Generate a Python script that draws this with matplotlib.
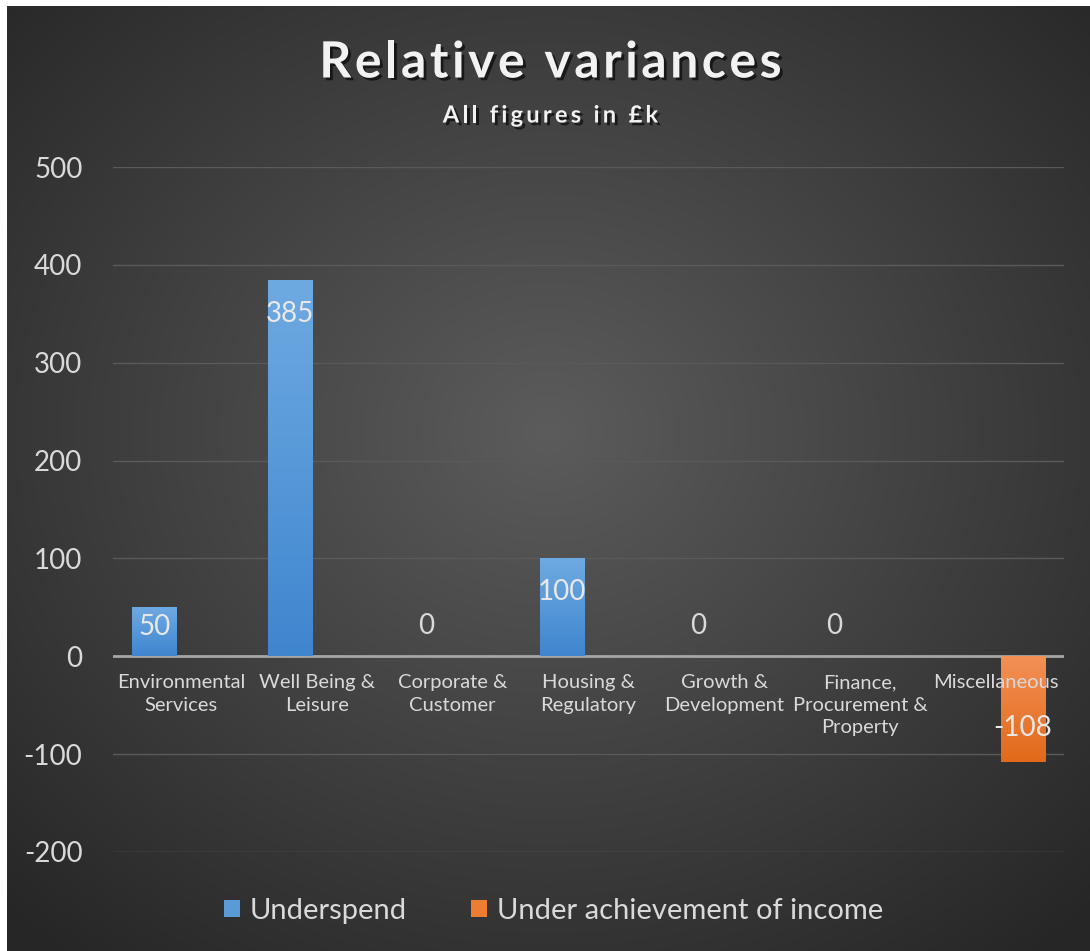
import numpy as np
import matplotlib
matplotlib.use('Agg')
import matplotlib.pyplot as plt
import matplotlib.patheffects as pe
from matplotlib.patches import Patch

plt.rcParams['font.family'] = ['Lato', 'DejaVu Sans']

categories = ['Environmental\nServices', 'Well Being &\nLeisure', 'Corporate &\nCustomer',
              'Housing &\nRegulatory', 'Growth &\nDevelopment', 'Finance,\nProcurement &\nProperty',
              'Miscellaneous']
underspend = [50, 385, 0, 100, 0, 0, None]
under_income = [None, None, None, None, None, None, -108]
series_names = ['Underspend', 'Under achievement of income']
yticks = [-200, -100, 0, 100, 200, 300, 400, 500]

W, H = 1090, 951
fig = plt.figure(figsize=(W / 100, H / 100), dpi=100, facecolor='white')
renderer = fig.canvas.get_renderer()

# dark radial background (white strip on left / top like the screenshot)
bg = fig.add_axes([7 / W, 0, 1 - 7 / W, 1 - 6 / H])
bg.set_axis_off()
yy, xx = np.mgrid[0:1:400j, 0:1:460j]
r = np.sqrt(((xx - 0.5) / 0.75) ** 2 + ((yy - 0.45) / 0.75) ** 2)
shade = np.clip(0.36 - 0.22 * r, 0.15, 1)
bg.imshow(np.dstack([shade] * 3), extent=[0, 1, 0, 1], aspect='auto', interpolation='bicubic')

ax = fig.add_axes([113 / W, 1 - 852 / H, (1064 - 113) / W, (852 - 167) / H])
ax.set_facecolor('none')

x = np.arange(len(categories))
bw, off = 0.324, 0.195
colors = ['#5b9bd5', '#ed7d31']
grads = [('#6eaae2', '#3f86cf'), ('#f39055', '#e2691a')]
px_per_unit = (852 - 167) / 700


def grad_bar(xc, v, col, g):
    bar = ax.bar(xc, v, bw, color=col, zorder=3)[0]
    top, bot = matplotlib.colors.to_rgb(g[0]), matplotlib.colors.to_rgb(g[1])
    t = np.linspace(0, 1, 64)[:, None]
    img = np.array(top) * (1 - t) + np.array(bot) * t   # row 0 drawn at the top
    lo, hi = min(0, v), max(0, v)
    im = ax.imshow(img[:, None, :], extent=[xc - bw / 2, xc + bw / 2, lo, hi],
                   aspect='auto', zorder=3.1, interpolation='bilinear')
    im.set_clip_path(bar)


for vals, dx, col, g in [(underspend, -off, colors[0], grads[0]),
                         (under_income, off, colors[1], grads[1])]:
    for xi, v in zip(x, vals):
        if v is None:
            continue
        if v != 0:
            grad_bar(xi + dx, v, col, g)
        if v == 0:
            ax.annotate('0', (xi + dx, 0), xytext=(0, 22), textcoords='offset points',
                        ha='center', va='center', fontsize=20, color='#d9d9d9', zorder=4)
        else:
            hpx = abs(v) * px_per_unit
            dpx = min(34, hpx * 0.41)
            sgn = -1 if v > 0 else 1
            ax.annotate(str(v), (xi + dx, v), xytext=(0, sgn * dpx * 0.72), textcoords='offset points',
                        ha='center', va='center', fontsize=20, color='#e8e8e8', zorder=4)
ax.set_xlim(-0.5, len(categories) - 0.5)
ax.set_ylim(-200, 500)

for t in yticks:
    if t != 0:
        ax.axhline(t, color='#5a5a5a', lw=1.0, zorder=1)
ax.axhline(0, color='#a6a6a6', lw=2, zorder=2)

ax.set_yticks(yticks)
ax.set_yticklabels([str(t) for t in yticks])
ax.tick_params(axis='y', length=0, pad=22, labelsize=20, labelcolor='#d9d9d9')
ax.set_xticks([])
for s in ax.spines.values():
    s.set_visible(False)

for xi, c in zip(x, categories):
    ax.annotate(c, (xi, 0), xytext=(0, -13), textcoords='offset points', ha='center', va='top',
                fontsize=14.5, color='#d9d9d9', linespacing=1.38, zorder=4)


def spaced_text(xc, yc, s, spacing, **kw):
    # draw characters one by one so the title gets Excel-like letter spacing
    widths = []
    for ch in s:
        t = fig.text(0, 0, ch if ch != ' ' else 'n', **kw)
        w = t.get_window_extent(renderer).width
        if ch == ' ':
            w *= 0.45
        widths.append(w)
        t.remove()
    total = sum(widths) + spacing * (len(s) - 1)
    xpos = xc * W - total / 2
    for ch, w in zip(s, widths):
        if ch != ' ':
            fig.text(xpos / W, yc, ch, ha='left', va='center', **kw)
        xpos += w + spacing


shadow = [pe.withSimplePatchShadow(offset=(2, -2), shadow_rgbFace='black', alpha=0.6)]
spaced_text(0.505, 1 - 63 / H, 'Relative variances', 3.5, fontsize=36, fontweight='bold',
            color='#f2f2f2', path_effects=shadow)
spaced_text(0.505, 1 - 115 / H, 'All figures in £k', 3.2, fontsize=17, fontweight='bold',
            color='#f2f2f2', path_effects=shadow)

handles = [Patch(facecolor=c, edgecolor='none') for c in colors]
leg = fig.legend(handles, series_names, loc='center', bbox_to_anchor=(0.508, 1 - 911 / H),
                 ncol=2, frameon=False, fontsize=21, labelcolor='#d9d9d9', handlelength=0.55,
                 handleheight=0.55, handletextpad=0.35, columnspacing=2.2)

fig.savefig('out.png', dpi=100, facecolor=fig.get_facecolor())
